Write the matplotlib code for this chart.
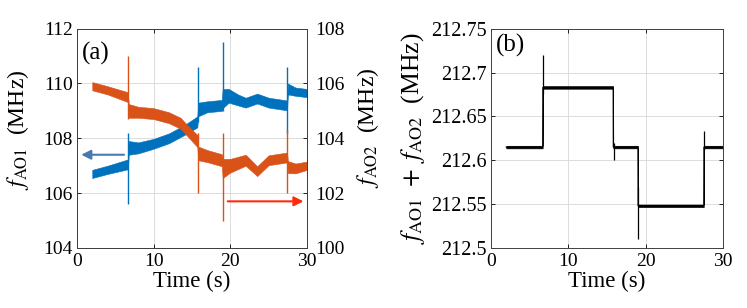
import matplotlib
matplotlib.use("Agg")
import matplotlib.pyplot as plt
import numpy as np

plt.rcParams['font.family'] = ['Liberation Serif', 'DejaVu Serif']
plt.rcParams['mathtext.fontset'] = 'stix'

# ---- Panel (a): AO1 (left axis, blue) ----
t_ao1 = [2.0, 4.0, 6.65, 6.75, 8.0, 10.0, 12.0, 14.0, 15.7, 15.8, 17.0, 18.9, 19.0, 19.8, 21.0, 22.0, 23.5, 25.0, 27.4, 27.5, 28.5, 30.0]
c_ao1 = [106.7, 106.85, 107.05, 107.65, 107.65, 107.8, 108.0, 108.3, 108.6, 109.05, 109.15, 109.2, 109.45, 109.55, 109.4, 109.3, 109.45, 109.3, 109.2, 109.8, 109.7, 109.65]
w_ao1 = [0.15, 0.15, 0.18, 0.25, 0.2, 0.18, 0.18, 0.18, 0.2, 0.25, 0.2, 0.2, 0.35, 0.25, 0.2, 0.18, 0.18, 0.18, 0.18, 0.2, 0.15, 0.15]
spike_t_ao1 = [6.7, 15.75, 19.0, 27.45]
spike_lo_ao1 = [105.6, 108.6, 109.0, 108.2]
spike_hi_ao1 = [108.2, 110.6, 111.5, 110.6]

# ---- Panel (a): AO2 (right axis, orange) ----
t_ao2 = [2.0, 4.0, 6.65, 6.75, 8.0, 10.0, 12.0, 13.5, 14.5, 15.7, 15.8, 17.0, 18.9, 19.0, 20.0, 22.0, 23.5, 25.0, 27.4, 27.5, 28.5, 30.0]
c_ao2 = [105.9, 105.75, 105.5, 105.0, 104.95, 104.9, 104.75, 104.55, 104.25, 103.9, 103.45, 103.35, 103.2, 102.9, 103.0, 103.2, 102.8, 103.2, 103.3, 102.95, 102.9, 103.0]
w_ao2 = [0.15, 0.15, 0.18, 0.25, 0.2, 0.2, 0.2, 0.2, 0.2, 0.22, 0.25, 0.22, 0.22, 0.35, 0.25, 0.2, 0.18, 0.18, 0.18, 0.22, 0.18, 0.15]
spike_t_ao2 = [6.7, 15.75, 19.0, 27.45]
spike_lo_ao2 = [104.7, 102.0, 101.0, 102.0]
spike_hi_ao2 = [107.0, 104.2, 104.2, 104.3]

# ---- Panel (b): sum ----
t_sum = [2.0, 6.7, 6.72, 15.8, 15.82, 19.0, 19.02, 27.5, 27.52, 30.0]
v_sum = [212.615, 212.615, 212.683, 212.683, 212.615, 212.615, 212.548, 212.548, 212.615, 212.615]
w_sum = 0.0015
spike_t_sum = [6.75, 15.85, 19.05, 27.55]
spike_lo_sum = [212.675, 212.600, 212.510, 212.612]
spike_hi_sum = [212.720, 212.620, 212.570, 212.633]

blue = '#0072BD'
orange = '#D95319'

fig = plt.figure(figsize=(7.47, 3.08), dpi=100)
ax1 = fig.add_axes([0.103, 0.195, 0.308, 0.712])
ax2 = ax1.twinx()
axb = fig.add_axes([0.657, 0.195, 0.311, 0.712])

def style(ax):
    ax.tick_params(direction='in', labelsize=14, length=3, width=0.6, pad=3)
    ax.tick_params(axis='x', pad=4)
    for s in ax.spines.values():
        s.set_linewidth(0.7)
        s.set_color('#404040')

# left axis blue
ta, ca, wa = np.array(t_ao1), np.array(c_ao1), np.array(w_ao1)
ax1.fill_between(ta, ca - wa, ca + wa, color=blue, lw=0.4, edgecolor=blue)
ax1.vlines(spike_t_ao1, spike_lo_ao1, spike_hi_ao1, color=blue, lw=1.0)
ax1.set_xlim(0, 30)
ax1.set_ylim(104, 112)
ax1.set_yticks([104, 106, 108, 110, 112])
ax1.set_xticks([0, 10, 20, 30])
ax1.grid(True, color='#dcdcdc', lw=0.7)
ax1.set_axisbelow(True)
ax1.set_xlabel('Time (s)', fontsize=16.5, labelpad=0)
ax1.set_ylabel(r'$f_{\mathrm{AO1}}$  (MHz)', fontsize=17, labelpad=3)
ax1.yaxis.set_label_coords(-0.2, 0.54)
style(ax1)
ax1.tick_params(top=True)

to, co, wo = np.array(t_ao2), np.array(c_ao2), np.array(w_ao2)
ax2.fill_between(to, co - wo, co + wo, color=orange, lw=0.4, edgecolor=orange)
ax2.vlines(spike_t_ao2, spike_lo_ao2, spike_hi_ao2, color=orange, lw=1.0)
ax2.set_ylim(100, 108)
ax2.set_yticks([100, 102, 104, 106, 108])
ax2.set_ylabel(r'$f_{\mathrm{AO2}}$  (MHz)', fontsize=17, labelpad=3)
ax2.yaxis.set_label_coords(1.21, 0.55)
style(ax2)
ax2.tick_params(axis='y', pad=6)

ax1.text(0.6, 111.5, '(a)', fontsize=18, va='top', ha='left')
ax1.annotate('', xy=(0.2, 107.4), xytext=(6.5, 107.4),
             arrowprops=dict(arrowstyle='-|>', color='#4a78b0', lw=1.5, mutation_scale=14))
ax2.annotate('', xy=(29.9, 101.7), xytext=(19.3, 101.7),
             arrowprops=dict(arrowstyle='-|>', color='#ff2a10', lw=1.5, mutation_scale=14))

# panel b
ts, vs = np.array(t_sum), np.array(v_sum)
axb.fill_between(ts, vs - w_sum, vs + w_sum, color='black', lw=0.4, edgecolor='black')
axb.plot(ts, vs, color='black', lw=0.8)
axb.vlines(spike_t_sum, spike_lo_sum, spike_hi_sum, color='black', lw=0.9)
axb.set_xlim(0, 30)
axb.set_ylim(212.5, 212.75)
axb.set_yticks([212.5, 212.55, 212.6, 212.65, 212.7, 212.75])
axb.set_yticklabels(['212.5', '212.55', '212.6', '212.65', '212.7', '212.75'])
axb.set_xticks([0, 10, 20, 30])
axb.grid(True, color='#dcdcdc', lw=0.7)
axb.set_axisbelow(True)
axb.set_xlabel('Time (s)', fontsize=16.5, labelpad=0)
axb.set_ylabel(r'$f_{\mathrm{AO1}}\ +\ f_{\mathrm{AO2}}$  (MHz)', fontsize=18.5, labelpad=3)
axb.text(0.6, 212.744, '(b)', fontsize=18, va='top', ha='left')
style(axb)
axb.tick_params(top=True, right=True)
axb.tick_params(axis='y', labelsize=14.5)

fig.savefig('out.png', dpi=100)
